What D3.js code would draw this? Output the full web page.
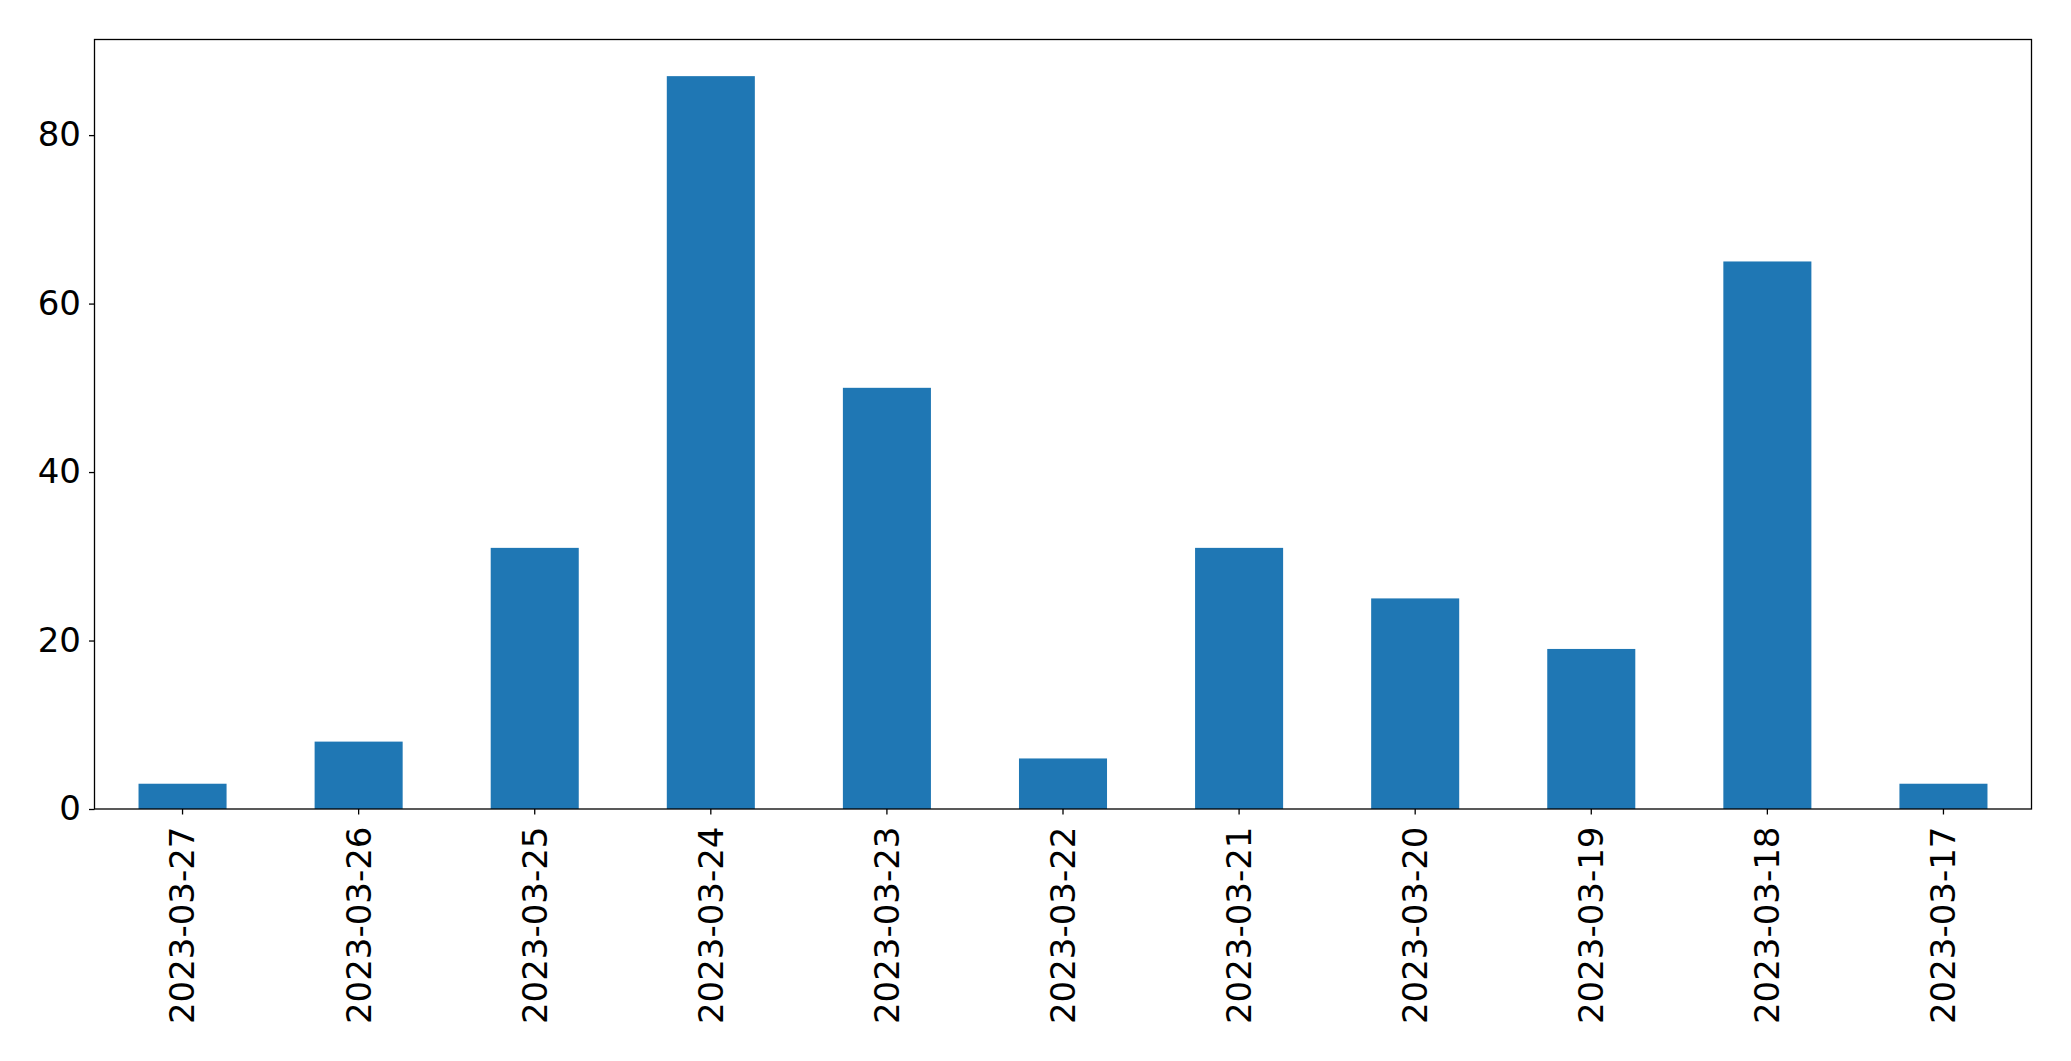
<!DOCTYPE html>
<html>
<head>
<meta charset="utf-8">
<script src="https://cdn.jsdelivr.net/npm/d3@7"></script>
<style>
  html, body { margin: 0; padding: 0; background: #fff; }
  svg { display: block; }
  text { font-family: "DejaVu Sans", sans-serif; fill: #000; }
</style>
</head>
<body>
<svg id="chart" width="2071" height="1061"></svg>
<script>
const categories = ["2023-03-27","2023-03-26","2023-03-25","2023-03-24","2023-03-23","2023-03-22","2023-03-21","2023-03-20","2023-03-19","2023-03-18","2023-03-17"];
const values = [3, 8, 31, 87, 50, 6, 31, 25, 19, 65, 3];
const yTicks = [0, 20, 40, 60, 80];

const W = 2071, H = 1061;
const m = { left: 94.5, right: 2031.5, top: 39.5, bottom: 809 };
const svg = d3.select("#chart");

const x = d3.scaleBand().domain(categories).range([m.left, m.right]).paddingInner(0.5).paddingOuter(0.25);
const y = d3.scaleLinear().domain([0, d3.max(values) * 1.05]).range([m.bottom, m.top]);

svg.append("g").selectAll("rect").data(values).join("rect")
  .attr("x", (d, i) => x(categories[i]))
  .attr("width", x.bandwidth())
  .attr("y", d => y(d))
  .attr("height", d => y(0) - y(d))
  .attr("fill", "#1f77b4");

const fs = 34;
const yAxis = svg.append("g").attr("transform", `translate(${m.left},0)`)
  .call(d3.axisLeft(y).tickValues(yTicks).tickSize(5.5).tickPadding(8).tickFormat(d3.format("d")));
yAxis.select(".domain").remove();
yAxis.selectAll("line").attr("stroke", "#000").attr("stroke-width", 1.3);
yAxis.selectAll("text").attr("font-size", fs).attr("font-family", "DejaVu Sans").attr("fill", "#000");

const xAxis = svg.append("g").attr("transform", `translate(0,${m.bottom})`)
  .call(d3.axisBottom(x).tickSize(5.5).tickPadding(8));
xAxis.select(".domain").remove();
xAxis.selectAll("line").attr("stroke", "#000").attr("stroke-width", 1.3);
xAxis.selectAll("text")
  .attr("font-size", fs).attr("font-family", "DejaVu Sans").attr("fill", "#000")
  .attr("transform", "rotate(-90)")
  .attr("text-anchor", "end")
  .attr("x", -17.5).attr("y", 0).attr("dy", "0.35em");

svg.append("rect")
  .attr("x", m.left).attr("y", m.top)
  .attr("width", m.right - m.left).attr("height", m.bottom - m.top)
  .attr("fill", "none").attr("stroke", "#000").attr("stroke-width", 1.3);
</script>
</body>
</html>
